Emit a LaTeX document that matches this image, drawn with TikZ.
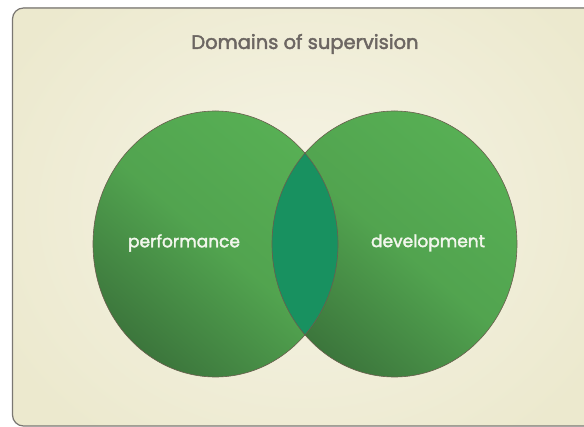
\documentclass[tikz,border=0pt]{standalone}
\usepackage{fontspec}
\setmainfont{Poppins}
\newfontfamily\medfont{Poppins}[FakeBold=2.2]
\usetikzlibrary{shapes.geometric}
\definecolor{bgin}{HTML}{F6F4E6}
\definecolor{bgout}{HTML}{ECE9CE}
\definecolor{frame}{HTML}{7A7772}
\definecolor{glight}{HTML}{57AF54}
\definecolor{gdark}{HTML}{3C763C}
\definecolor{lens}{HTML}{189160}
\definecolor{edge}{HTML}{6A5E4E}
\definecolor{titlec}{HTML}{6C6662}
\definecolor{labelc}{HTML}{F2F6EC}
\tikzset{
  circfill/.style={top color=glight, bottom color=gdark, middle color=glight!80!gdark, shading angle=-40},
  circedge/.style={draw=edge, line width=0.6pt},
  titletext/.style={text=titlec, font=\medfont\fontsize{19.5}{23}\selectfont, inner sep=0pt},
  labeltext/.style={text=labelc, font=\medfont\fontsize{17}{20}\selectfont, inner sep=0pt}
}
\begin{document}
\begin{tikzpicture}[x=1pt,y=-1pt]
\useasboundingbox (0,0) rectangle (584,427);
\fill[white] (0,0) rectangle (584,427);
\begin{scope}
\clip[rounded corners=11pt] (12.5,8) rectangle (620,426);
\fill[inner color=bgin, outer color=bgout] (-40,-80) rectangle (650,500);
\end{scope}
\draw[frame, line width=1.2pt, rounded corners=11pt] (620,8) -- (12.5,8) -- (12.5,426) -- (620,426);
% circles
\shade[circfill] (215.5,244) ellipse [x radius=122.5, y radius=133];
\shade[circfill] (394.5,244) ellipse [x radius=122.5, y radius=133];
\begin{scope}
\clip (215.5,244) ellipse [x radius=122.5, y radius=133];
\fill[lens] (394.5,244) ellipse [x radius=122.5, y radius=133];
\end{scope}
\draw[circedge] (215.5,244) ellipse [x radius=122.5, y radius=133];
\draw[circedge] (394.5,244) ellipse [x radius=122.5, y radius=133];
\node[titletext] (title) at (305,44) {Domains of supervision};
\node[labeltext] (perf) at (184,243) {performance};
\node[labeltext] (dev) at (428,243) {development};
\end{tikzpicture}
\end{document}
